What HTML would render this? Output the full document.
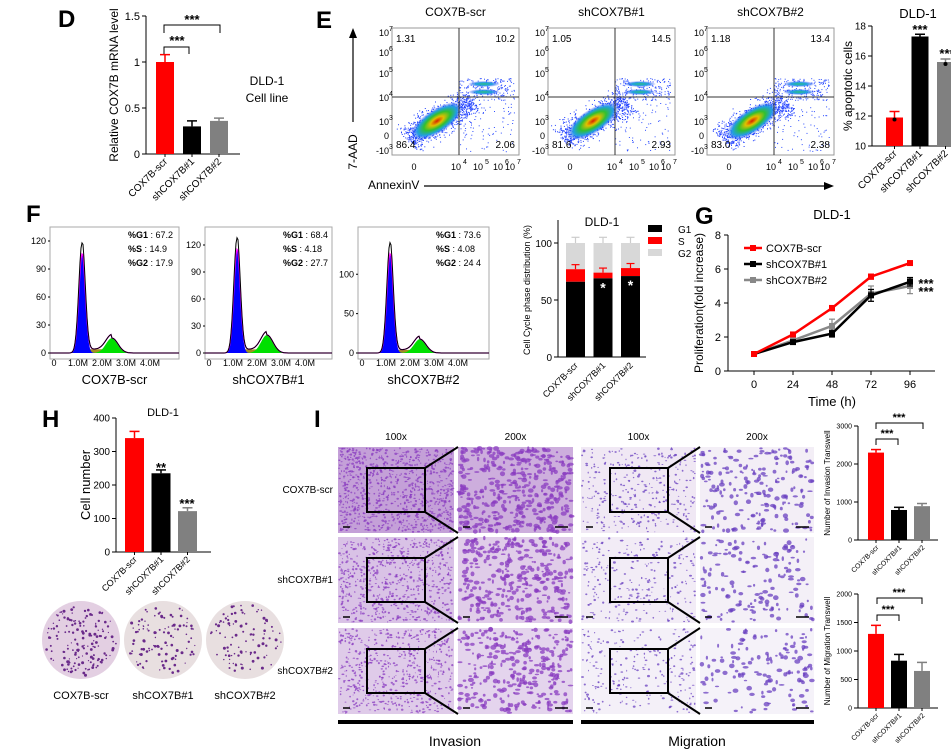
<!DOCTYPE html>
<html><head><meta charset="utf-8">
<style>
html,body{margin:0;padding:0;background:#fff;}
svg{display:block;font-family:"Liberation Sans",Arial,sans-serif;}
</style></head>
<body>
<svg id="fig" width="951" height="754" viewBox="0 0 951 754" xmlns="http://www.w3.org/2000/svg">
<defs>
<radialGradient id="dens" cx="50%" cy="50%" r="50%">
<stop offset="0%" stop-color="#d62000"/>
<stop offset="25%" stop-color="#e0c000"/>
<stop offset="50%" stop-color="#30c030"/>
<stop offset="75%" stop-color="#20a0e0"/>
<stop offset="100%" stop-color="#2030ff" stop-opacity="0"/>
</radialGradient>
<radialGradient id="dens2" cx="50%" cy="50%" r="50%">
<stop offset="0%" stop-color="#30c080"/>
<stop offset="50%" stop-color="#20a0e0"/>
<stop offset="100%" stop-color="#2030ff" stop-opacity="0"/>
</radialGradient>
</defs>
</svg>
<script>
// ---------- data ----------
const cats = ['COX7B-scr','shCOX7B#1','shCOX7B#2'];
const barColors = ['#ff0000','#000000','#808080'];
const dVals = [1.0, 0.30, 0.36];
const dErr = [0.08, 0.06, 0.03];
const dTicks = [0, 0.5, 1.0, 1.5];
const eVals = [11.9, 17.3, 15.6];
const eErr = [0.4, 0.15, 0.2];
const eTicks = [10, 12, 14, 16, 18];
const eQuad = [['1.31','10.2','86.4','2.06'],['1.05','14.5','81.6','2.93'],['1.18','13.4','83.0','2.38']];
const fG1 = ['67.2','68.4','73.6'];
const fS = ['14.9','4.18','4.08'];
const fG2 = ['17.9','27.7','24 4'];
const histPeak = [118, 128, 140];
const histG2 = [20, 25, 22];
const histMax = [135, 140, 160];
const histTicks = [[0,30,60,90,120],[0,30,60,90,120],[0,50,100]];
const ccG1 = [66, 69, 71];
const ccS = [11, 5, 7];
const ccG2 = [23, 26, 22];
const ccTicks = [0, 50, 100];
const gTimes = [0, 24, 48, 72, 96];
const gScr = [1, 2.15, 3.7, 5.55, 6.35];
const gSh1 = [1, 1.7, 2.2, 4.45, 5.25];
const gSh2 = [1, 1.8, 2.65, 4.55, 5.0];
const gErrScr = [0.05, 0.1, 0.15, 0.15, 0.1];
const gErrSh1 = [0.05, 0.08, 0.2, 0.35, 0.25];
const gErrSh2 = [0.05, 0.08, 0.4, 0.45, 0.45];
const gTicks = [0, 2, 4, 6, 8];
const hVals = [340, 235, 122];
const hErr = [20, 10, 10];
const hTicks = [0, 100, 200, 300, 400];
const invVals = [2300, 790, 890];
const invErr = [80, 70, 70];
const invTicks = [0, 1000, 2000, 3000];
const migVals = [1300, 830, 650];
const migErr = [150, 110, 150];
const migTicks = [0, 500, 1000, 1500, 2000];

const NS = 'http://www.w3.org/2000/svg';
const svg = document.getElementById('fig');
function mk(parent, tag, attrs, name) {
  const el = document.createElementNS(NS, tag);
  for (const k in attrs) el.setAttribute(k, attrs[k]);
  
  
  parent.appendChild(el);
  return el;
}
function txt(parent, x, y, s, size, name, extra) {
  const a = Object.assign({x: x, y: y, 'font-size': size, fill: '#000'}, extra || {});
  const t = mk(parent, 'text', a, name);
  t.textContent = s;
  return t;
}
function line(p, x1, y1, x2, y2, name, w, c) {
  return mk(p, 'line', {x1:x1, y1:y1, x2:x2, y2:y2, stroke:c||'#000', 'stroke-width':w||1}, name);
}
let seed = 12345;
function rnd() { seed = (seed * 16807) % 2147483647; return seed / 2147483647; }

// ---------- generic bar chart ----------
function barChart(o) {
  const g = mk(svg, 'g', {}, o.name);
  const ys = v => o.yBot - (v - o.vmin) / (o.vmax - o.vmin) * (o.yBot - o.yTop);
  line(g, o.axisX, o.yTop, o.axisX, o.yBot, 'y-axis');
  line(g, o.axisX, o.yBot, o.axisX + o.xLen, o.yBot, 'x-axis');
  o.ticks.forEach(t => {
    line(g, o.axisX - 4, ys(t), o.axisX, ys(t), 'y-tick');
    txt(g, o.axisX - 6, ys(t) + o.fs * 0.35, String(t), o.fs, 'y-tick-label', {'text-anchor':'end'});
  });
  o.vals.forEach((v, i) => {
    const x = o.barX + i * o.step;
    mk(g, 'rect', {x: x, y: ys(v), width: o.barW, height: o.yBot - ys(v), fill: barColors[i]}, 'bar-' + cats[i].toLowerCase().replace('#', ''));
    const cx = x + o.barW / 2;
    line(g, cx, ys(v), cx, ys(v + o.errs[i]), 'error-bar', 1.5, barColors[i]);
    line(g, cx - 5, ys(v + o.errs[i]), cx + 5, ys(v + o.errs[i]), 'error-cap', 1.5, barColors[i]);
    line(g, cx, o.yBot, cx, o.yBot + 3, 'x-tick');
    txt(g, cx + 3, o.yBot + 8, cats[i], o.lfs, 'x-tick-label', {'text-anchor':'end', transform:'rotate(-45 ' + (cx + 3) + ' ' + (o.yBot + 8) + ')'});
  });
  const ly = (o.yTop + o.yBot) / 2;
  txt(g, o.ylabelX, ly, o.ylabel, o.yfs, 'y-axis-title', {'text-anchor':'middle', transform:'rotate(-90 ' + o.ylabelX + ' ' + ly + ')'});
  g.ys = ys;
  return g;
}
function stars(p, x, y, s, fs) { return txt(p, x, y, s, fs || 13, 'significance-stars', {'text-anchor':'middle', 'font-weight':'bold'}); }
function bracket(p, x1, x2, y, d) {
  mk(p, 'path', {d: 'M' + x1 + ' ' + (y + d) + 'V' + y + 'H' + x2 + 'V' + (y + d), fill: 'none', stroke: '#000', 'stroke-width': 1}, 'significance-bracket');
}
function panelLabel(s, x, y) { txt(svg, x, y, s, 24, 'panel-label-' + s.toLowerCase(), {'font-weight':'bold'}); }

// ---------- D ----------
panelLabel('D', 58, 27);
const dG = barChart({name:'mrna-bar-chart', axisX:146, yTop:16, yBot:154, vmin:0, vmax:1.5, ticks:dTicks, vals:dVals, errs:dErr, barX:156, barW:18, step:27, xLen:94, fs:11, lfs:10, ylabel:'Relative COX7B mRNA level', ylabelX:118, yfs:12});
bracket(dG, 164, 220, 25, 8); stars(dG, 192, 24, '***');
bracket(dG, 164, 189, 47, 7); stars(dG, 177, 45, '***');
txt(svg, 267, 85, 'DLD-1', 12, 'cell-line-name', {'text-anchor':'middle'});
txt(svg, 267, 102, 'Cell line', 12, 'cell-line-caption', {'text-anchor':'middle'});

// ---------- E ----------
panelLabel('E', 316, 28);
const fx = [392, 548, 707];
const fW = 127, fTop = 28, fBot = 155, qx = 67, qy = 97;
fx.forEach((x0, k) => {
  const g = mk(svg, 'g', {}, 'flow-plot-' + (k + 1));
  txt(g, x0 + fW / 2, 16, cats[k], 12, 'flow-plot-title', {'text-anchor':'middle'});
  mk(g, 'rect', {x:x0, y:fTop, width:fW, height:fBot - fTop, fill:'#fff', stroke:'#999', 'stroke-width':1}, 'flow-plot-frame');
  for (let i = 0; i < 900; i++) {
    const t = rnd() * 2 - 1, u = (rnd() + rnd() + rnd() - 1.5) * 18;
    const px = x0 + 47 + t * 32 + u * 0.6, py = 120 - t * 20 + u * 0.6;
    if (px > x0 + 2 && px < x0 + fW - 2 && py < fBot - 2 && py > fTop + 2) mk(g, 'rect', {x:px.toFixed(1), y:py.toFixed(1), width:1, height:1, fill:'#2040ff'}, 'event-dot');
  }
  for (let i = 0; i < 220; i++) {
    const px = x0 + qx + rnd() * 55, py = 78 + rnd() * 22;
    mk(g, 'rect', {x:px.toFixed(1), y:py.toFixed(1), width:1, height:1, fill:'#3050ff'}, 'event-dot');
  }
  for (let i = 0; i < 80; i++) {
    const px = x0 + qx + rnd() * 55, py = qy + 5 + rnd() * 50;
    mk(g, 'rect', {x:px.toFixed(1), y:py.toFixed(1), width:1, height:1, fill:'#3050ff'}, 'event-dot');
  }
  mk(g, 'ellipse', {cx:x0 + 45, cy:121, rx:30, ry:12, fill:'url(#dens)', transform:'rotate(-33 ' + (x0 + 45) + ' 121)'}, 'density-cluster-live');
  mk(g, 'ellipse', {cx:x0 + qx + 25, cy:84, rx:16, ry:3, fill:'url(#dens2)'}, 'density-cluster-late');
  mk(g, 'ellipse', {cx:x0 + qx + 25, cy:92, rx:16, ry:3, fill:'url(#dens2)'}, 'density-cluster-late');
  line(g, x0 + qx, fTop, x0 + qx, fBot, 'quadrant-line-vertical', 1, '#333');
  line(g, x0, qy, x0 + fW, qy, 'quadrant-line-horizontal', 1, '#333');
  txt(g, x0 + 4, 42, eQuad[k][0], 10, 'quadrant-value-ul');
  txt(g, x0 + fW - 4, 42, eQuad[k][1], 10, 'quadrant-value-ur', {'text-anchor':'end'});
  txt(g, x0 + 4, 148, eQuad[k][2], 10, 'quadrant-value-ll');
  txt(g, x0 + fW - 4, 148, eQuad[k][3], 10, 'quadrant-value-lr', {'text-anchor':'end'});
  const yl = [['10','7',36],['10','6',56],['10','5',77],['10','4',101],['10','3',125],['0','',139],['-10','3',154]];
  yl.forEach(a => { txt(g, x0 - 3, a[2], a[0], 9, 'y-tick-label', {'text-anchor':'end'}); if (a[1]) { txt(g, x0 - 3, a[2] - 5, a[1], 7, 'y-tick-exp'); } });
  const xl = [['0','',25],['10','4',qx],['10','5',qx + 22],['10','6',qx + 42],['10','7',qx + 54]];
  xl.forEach(a => { txt(g, x0 + a[2] - 3, 170, a[0], 9, 'x-tick-label', {'text-anchor':'middle'}); if (a[1]) txt(g, x0 + a[2] + 4, 164, a[1], 7, 'x-tick-exp'); });
});
line(svg, 353, 122, 353, 36, 'y-arrow', 1.2);
mk(svg, 'path', {d:'M349 38 L353 28 L357 38 Z', fill:'#000'}, 'y-arrow-head');
txt(svg, 357, 152, '7-AAD', 12, 'y-axis-title', {'text-anchor':'middle', transform:'rotate(-90 357 152)'});
txt(svg, 368, 189, 'AnnexinV', 12, 'x-axis-title');
line(svg, 424, 186, 826, 186, 'x-arrow', 1.2);
mk(svg, 'path', {d:'M824 182 L834 186 L824 190 Z', fill:'#000'}, 'x-arrow-head');
txt(svg, 918, 18, 'DLD-1', 13, 'chart-title', {'text-anchor':'middle'});
const eG = barChart({name:'apoptosis-bar-chart', axisX:872, yTop:26, yBot:146, vmin:10, vmax:18, ticks:eTicks, vals:eVals, errs:eErr, barX:886, barW:17, step:25.5, xLen:79, fs:10, lfs:10, ylabel:'% apoptotic cells', ylabelX:852, yfs:12});
stars(eG, 920, 34, '***'); stars(eG, 947, 58, '***');
eVals.forEach((v, i) => { mk(eG, 'circle', {cx:886 + i * 25.5 + 8.5, cy:eG.ys(v) + 2, r:2, fill:'#000'}, 'replicate-dot'); });

// ---------- F ----------
panelLabel('F', 26, 222);
const hx = [50, 205, 358], hW = [129, 127, 131];
hx.forEach((x0, k) => {
  const g = mk(svg, 'g', {}, 'cell-cycle-histogram-' + (k + 1));
  const top = 227, base = 353, w = hW[k];
  mk(g, 'rect', {x:x0, y:top, width:w, height:base - top + 6, fill:'none', stroke:'#aaa'}, 'histogram-frame');
  const ys = v => base - v / histMax[k] * (base - top);
  histTicks[k].forEach(t => { txt(g, x0 - 4, ys(t) + 3, String(t), 9, 'y-tick-label', {'text-anchor':'end'}); line(g, x0 - 2, ys(t), x0, ys(t), 'y-tick'); });
  const p1 = x0 + 32, p2 = x0 + 62;
  let blue = 'M' + x0 + ' ' + base, green = 'M' + x0 + ' ' + base, olive = 'M' + x0 + ' ' + base, outl = '', mag = '';
  for (let x = x0; x <= x0 + w; x += 1) {
    const b = histPeak[k] * 0.9 * Math.exp(-Math.pow((x - p1) / 3.2, 2) / 2);
    const gr = histG2[k] * 0.8 * Math.exp(-Math.pow((x - p2) / 6, 2) / 2);
    const s = (x > p1 && x < p2) ? 4 : 0;
    const tot = b + gr + s + histPeak[k] * 0.1 * Math.exp(-Math.pow((x - p1) / 3.2, 2) / 2);
    blue += ' L' + x + ' ' + ys(b).toFixed(1);
    green += ' L' + x + ' ' + ys(gr).toFixed(1);
    olive += ' L' + x + ' ' + ys(s).toFixed(1);
    outl += (outl ? ' L' : 'M') + x + ' ' + ys(tot).toFixed(1);
    mag += (mag ? ' L' : 'M') + x + ' ' + ys(b + gr + s).toFixed(1);
  }
  mk(g, 'path', {d:olive + ' L' + (x0 + w) + ' ' + base + 'Z', fill:'#a09020'}, 'histogram-s-phase');
  mk(g, 'path', {d:green + ' L' + (x0 + w) + ' ' + base + 'Z', fill:'#00e000'}, 'histogram-g2');
  mk(g, 'path', {d:blue + ' L' + (x0 + w) + ' ' + base + 'Z', fill:'#0000ff'}, 'histogram-g1');
  mk(g, 'path', {d:mag, fill:'none', stroke:'#ff00ff', 'stroke-width':1.2}, 'histogram-fit');
  mk(g, 'path', {d:outl, fill:'none', stroke:'#000', 'stroke-width':1}, 'histogram-outline');
  ['0','1.0M','2.0M','3.0M','4.0M'].forEach((s, i) => txt(g, x0 + 4 + i * 24, 366, s, 9, 'x-tick-label', {'text-anchor':'middle'}));
  txt(g, x0 + w / 2, 384, cats[k], 13, 'histogram-label', {'text-anchor':'middle'});
  const sx = x0 + 78;
  [['%G1', fG1[k]], ['%S', fS[k]], ['%G2', fG2[k]]].forEach((a, i) => {
    const t = txt(g, sx, 238 + i * 14, '', 9, 'phase-percentage');
    const b = document.createElementNS(NS, 'tspan'); b.setAttribute('font-weight', 'bold'); b.textContent = a[0]; t.appendChild(b);
    const r = document.createElementNS(NS, 'tspan'); r.textContent = ' : ' + a[1]; t.appendChild(r);
  });
});
// cell cycle stacked bars
const ccg = mk(svg, 'g', {}, 'cell-cycle-stacked-chart');
const ccY = v => 357 - v / 100 * (357 - 243);
line(ccg, 558, 220, 558, 357, 'y-axis'); line(ccg, 558, 357, 646, 357, 'x-axis');
ccTicks.forEach(t => { line(ccg, 554, ccY(t), 558, ccY(t), 'y-tick'); txt(ccg, 552, ccY(t) + 4, String(t), 10, 'y-tick-label', {'text-anchor':'end'}); });
txt(ccg, 530, 290, 'Cell Cycle phase distribution (%)', 9, 'y-axis-title', {'text-anchor':'middle', transform:'rotate(-90 530 290)'});
txt(ccg, 602, 226, 'DLD-1', 12, 'chart-title', {'text-anchor':'middle'});
cats.forEach((c, i) => {
  const x = 566 + i * 27.5, cx = x + 9.5;
  const a = ccG1[i], b = a + ccS[i], t = b + ccG2[i];
  mk(ccg, 'rect', {x:x, y:ccY(t), width:19, height:ccY(b) - ccY(t), fill:'#d8d8d8'}, 'bar-g2');
  mk(ccg, 'rect', {x:x, y:ccY(b), width:19, height:ccY(a) - ccY(b), fill:'#ff0000'}, 'bar-s');
  mk(ccg, 'rect', {x:x, y:ccY(a), width:19, height:ccY(0) - ccY(a), fill:'#000'}, 'bar-g1');
  line(ccg, cx, ccY(t), cx, ccY(t + 5), 'error-bar', 1.2, '#ccc'); line(ccg, cx - 4, ccY(t + 5), cx + 4, ccY(t + 5), 'error-cap', 1.2, '#ccc');
  line(ccg, cx, ccY(b), cx, ccY(b + 4), 'error-bar', 1.2, '#f00'); line(ccg, cx - 4, ccY(b + 4), cx + 4, ccY(b + 4), 'error-cap', 1.2, '#f00');
  if (i > 0) txt(ccg, cx, ccY(a) + 14, '*', 14, 'significance-star', {'text-anchor':'middle', fill:'#fff', 'font-weight':'bold'});
  txt(ccg, cx + 3, 366, c, 9, 'x-tick-label', {'text-anchor':'end', transform:'rotate(-45 ' + (cx + 3) + ' 366)'});
});
[['G1', '#000'], ['S', '#ff0000'], ['G2', '#d8d8d8']].forEach((a, i) => {
  mk(ccg, 'rect', {x:648, y:225 + i * 12, width:14, height:7, fill:a[1]}, 'legend-swatch-' + a[0].toLowerCase());
  txt(ccg, 678, 233 + i * 12, a[0], 10, 'legend-label-' + a[0].toLowerCase());
});

// ---------- G ----------
panelLabel('G', 695, 224);
const gg = mk(svg, 'g', {}, 'proliferation-line-chart');
const gx = t => 754 + t / 96 * 156;
const gy = v => 371 - v / 8 * 136;
txt(gg, 832, 219, 'DLD-1', 13, 'chart-title', {'text-anchor':'middle'});
line(gg, 728, gy(8), 728, 371, 'y-axis'); line(gg, 728, 371, 935, 371, 'x-axis');
gTicks.forEach(t => { line(gg, 724, gy(t), 728, gy(t), 'y-tick'); txt(gg, 721, gy(t) + 4, String(t), 11, 'y-tick-label', {'text-anchor':'end'}); });
gTimes.forEach(t => { line(gg, gx(t), 371, gx(t), 375, 'x-tick'); txt(gg, gx(t), 388, String(t), 11, 'x-tick-label', {'text-anchor':'middle'}); });
txt(gg, 832, 406, 'Time (h)', 13, 'x-axis-title', {'text-anchor':'middle'});
txt(gg, 703, 303, 'Proliferation(fold increase)', 12, 'y-axis-title', {'text-anchor':'middle', transform:'rotate(-90 703 303)'});
[[gSh2, gErrSh2, '#888', 'series-shcox7b2'], [gSh1, gErrSh1, '#000', 'series-shcox7b1'], [gScr, gErrScr, '#ff0000', 'series-cox7b-scr']].forEach(s => {
  const pts = gTimes.map((t, i) => gx(t) + ',' + gy(s[0][i]).toFixed(1)).join(' ');
  mk(gg, 'polyline', {points:pts, fill:'none', stroke:s[2], 'stroke-width':2.5}, s[3] + '-line');
  gTimes.forEach((t, i) => {
    const x = gx(t), y = gy(s[0][i]);
    line(gg, x, gy(s[0][i] - s[1][i]), x, gy(s[0][i] + s[1][i]), 'error-bar', 1.2, s[2]);
    line(gg, x - 3, gy(s[0][i] + s[1][i]), x + 3, gy(s[0][i] + s[1][i]), 'error-cap', 1.2, s[2]);
    line(gg, x - 3, gy(s[0][i] - s[1][i]), x + 3, gy(s[0][i] - s[1][i]), 'error-cap', 1.2, s[2]);
    mk(gg, 'rect', {x:x - 3, y:y - 3, width:6, height:6, fill:s[2]}, s[3] + '-point');
  });
});
[['COX7B-scr', '#ff0000', 248], ['shCOX7B#1', '#000', 264], ['shCOX7B#2', '#888', 280]].forEach(a => {
  line(gg, 744, a[2], 762, a[2], 'legend-line', 2.5, a[1]);
  mk(gg, 'rect', {x:750, y:a[2] - 3, width:6, height:6, fill:a[1]}, 'legend-marker');
  txt(gg, 766, a[2] + 4, a[0], 11, 'legend-label');
});
stars(gg, 926, 288, '***', 13); stars(gg, 926, 296, '***', 13);

// ---------- H ----------
panelLabel('H', 42, 427);
txt(svg, 163, 416, 'DLD-1', 11, 'chart-title', {'text-anchor':'middle'});
const hG = barChart({name:'cell-number-bar-chart', axisX:116, yTop:418, yBot:552, vmin:0, vmax:400, ticks:hTicks, vals:hVals, errs:hErr, barX:125, barW:19, step:26.5, xLen:95, fs:10, lfs:9, ylabel:'Cell number', ylabelX:90, yfs:13});
stars(hG, 161, 472, '**'); stars(hG, 187, 508, '***');
const dishDots = [160, 110, 95];
[81, 163, 245].forEach((cx, k) => {
  const g = mk(svg, 'g', {}, 'colony-dish-' + (k + 1));
  mk(g, 'circle', {cx:cx, cy:640, r:39, fill:k === 0 ? '#e3cfe2' : '#e8dfe0'}, 'dish-plate');
  for (let i = 0; i < dishDots[k]; i++) {
    const a = rnd() * 6.283, r = Math.sqrt(rnd()) * 36;
    mk(g, 'circle', {cx:(cx + r * Math.cos(a)).toFixed(1), cy:(640 + r * Math.sin(a)).toFixed(1), r:(0.6 + rnd() * 0.9).toFixed(1), fill:'#6a2a8a'}, 'colony');
  }
  txt(g, cx, 699, cats[k], 11, 'dish-label', {'text-anchor':'middle'});
});

// ---------- I ----------
panelLabel('I', 314, 427);
const ix = [338, 458, 581, 700], iw = [116, 115, 115, 114];
const iy = [447, 537, 628], ih = 86;
const dens = [[900, 420, 330, 200], [650, 330, 260, 150], [560, 300, 240, 140]];
const bgc = [['#c4a0d8', '#cdaedd', '#f0e8f4', '#f3eef6'], ['#d9c2e6', '#e0cce9', '#f2ecf6', '#f4f0f7'], ['#dfcbe9', '#e4d4ed', '#f4f0f8', '#f5f2f9']];
['100x', '200x', '100x', '200x'].forEach((s, c) => txt(svg, ix[c] + iw[c] / 2, 440, s, 10, 'magnification-header', {'text-anchor':'middle'}));
iy.forEach((y0, r) => {
  txt(svg, 333, y0 + 46, cats[r], 10, 'row-label', {'text-anchor':'end'});
  ix.forEach((x0, c) => {
    const g = mk(svg, 'g', {}, 'transwell-image');
    mk(g, 'rect', {x:x0, y:y0, width:iw[c], height:ih, fill:bgc[r][c]}, 'image-background');
    const big = c % 2 === 1 ? 1.6 : 0.8;
    for (let i = 0; i < dens[r][c]; i++) {
      mk(g, 'ellipse', {cx:(x0 + 1 + rnd() * (iw[c] - 2)).toFixed(1), cy:(y0 + 1 + rnd() * (ih - 2)).toFixed(1), rx:((0.6 + rnd() * 1.3) * big).toFixed(1), ry:((0.5 + rnd() * 1.0) * big).toFixed(1), fill:c < 2 ? '#8a3cc0' : '#6a40c0', opacity:0.75}, 'stained-cell');
    }
    line(g, x0 + 5, y0 + ih - 6, x0 + 12, y0 + ih - 6, 'scale-bar', 1.5);
    if (c % 2 === 1) line(g, x0 + iw[c] - 18, y0 + ih - 6, x0 + iw[c] - 5, y0 + ih - 6, 'scale-bar', 1.5);
  });
  [0, 2].forEach(c => {
    const bx = ix[c] + 29, by = y0 + 21;
    mk(svg, 'rect', {x:bx, y:by, width:58, height:44, fill:'none', stroke:'#000', 'stroke-width':2}, 'zoom-box');
    line(svg, bx + 58, by, ix[c + 1], y0, 'zoom-connector', 2);
    line(svg, bx + 58, by + 44, ix[c + 1], y0 + ih, 'zoom-connector', 2);
  });
});
mk(svg, 'rect', {x:338, y:720, width:235, height:4, fill:'#000'}, 'invasion-group-bar');
mk(svg, 'rect', {x:581, y:720, width:233, height:4, fill:'#000'}, 'migration-group-bar');
txt(svg, 455, 746, 'Invasion', 14, 'invasion-label', {'text-anchor':'middle'});
txt(svg, 697, 746, 'Migration', 14, 'migration-label', {'text-anchor':'middle'});
const invG = barChart({name:'invasion-bar-chart', axisX:858, yTop:426, yBot:540, vmin:0, vmax:3000, ticks:invTicks, vals:invVals, errs:invErr, barX:868, barW:16, step:23, xLen:80, fs:7, lfs:7, ylabel:'Number of Invasion Transwell', ylabelX:830, yfs:8});
bracket(invG, 876, 923, 423, 6); stars(invG, 899, 421, '***', 11);
bracket(invG, 876, 898, 439, 6); stars(invG, 887, 437, '***', 11);
const migG = barChart({name:'migration-bar-chart', axisX:858, yTop:594, yBot:708, vmin:0, vmax:2000, ticks:migTicks, vals:migVals, errs:migErr, barX:868, barW:16, step:23, xLen:80, fs:7, lfs:7, ylabel:'Number of Migration Transwell', ylabelX:830, yfs:8});
bracket(migG, 877, 922, 598, 6); stars(migG, 899, 596, '***', 11);
bracket(migG, 877, 899, 615, 6); stars(migG, 888, 613, '***', 11);
</script>
</body></html>
